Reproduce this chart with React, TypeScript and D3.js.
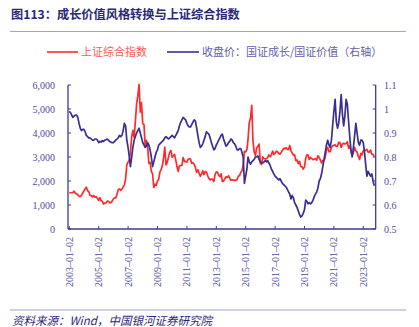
import React from "react";
import * as d3 from "d3";

const W = 419;
const H = 327;

const title = "图113：成长价值风格转换与上证综合指数";
const source = "资料来源：Wind，中国银河证券研究院";
const seriesNames = ["上证综合指数", "收盘价：国证成长/国证价值（右轴）"];

const startMonth = "2003-01";
const endMonth = "2023-11";

// Shanghai Composite, monthly (Jan 2003 – Oct 2023)
const shIndex = [
  1500, 1512, 1511, 1521, 1577, 1487, 1477, 1421, 1367, 1349, 1397, 1497,
  1590, 1675, 1742, 1595, 1555, 1400, 1386, 1342, 1396, 1320, 1340, 1266,
  1191, 1306, 1181, 1159, 1040, 1080, 1083, 1162, 1155, 1092, 1099, 1161,
  1258, 1299, 1298, 1440, 1641, 1672, 1612, 1658, 1752, 1837, 2099, 2675,
  2786, 2881, 3183, 3841, 4109, 3820, 4471, 5218, 5552, 6030, 4871, 5262,
  4383, 4348, 3473, 3693, 3433, 2736, 2776, 2397, 2293, 1729, 1871, 1821,
  1991, 2082, 2373, 2477, 2633, 2959, 3412, 2668, 2779, 2996, 3195, 3277,
  2989, 3051, 3110, 2871, 2592, 2398, 2638, 2639, 2656, 2979, 2820, 2808,
  2790, 2905, 2928, 2911, 2743, 2762, 2701, 2568, 2359, 2468, 2333, 2199,
  2292, 2428, 2263, 2396, 2373, 2225, 2103, 2047, 2086, 2069, 1980, 2269,
  2385, 2365, 2237, 2178, 2301, 1979, 1994, 2098, 2175, 2141, 2220, 2116,
  2033, 2056, 2033, 2026, 2039, 2048, 2201, 2217, 2364, 2420, 2683, 3235,
  3210, 3310, 3748, 4441, 4612, 5150, 3664, 3206, 3053, 3383, 3445, 3539,
  2738, 2688, 3004, 2938, 2917, 2930, 2979, 3085, 3005, 3100, 3250, 3104,
  3159, 3242, 3223, 3155, 3117, 3192, 3273, 3361, 3349, 3393, 3317, 3307,
  3481, 3259, 3169, 3082, 3095, 2847, 2876, 2725, 2821, 2603, 2588, 2494,
  2585, 2941, 3091, 3078, 2899, 2979, 2933, 2886, 2905, 2929, 2871, 3050,
  2977, 2880, 2750, 2860, 2852, 2985, 3310, 3396, 3218, 3225, 3392, 3473,
  3483, 3509, 3441, 3447, 3615, 3591, 3397, 3544, 3568, 3547, 3564, 3640,
  3361, 3462, 3252, 3047, 3186, 3399, 3253, 3202, 3024, 2893, 3151, 3089,
  3256, 3280, 3273, 3323, 3205, 3202, 3291, 3120, 3110, 3018,
];

// Growth / Value close ratio, monthly (right axis)
const growthValue = [
  0.99, 0.985, 0.975, 0.965, 0.97, 0.975, 0.975, 0.965, 0.94, 0.92, 0.91, 0.915,
  0.915, 0.905, 0.89, 0.885, 0.88, 0.88, 0.875, 0.87, 0.87, 0.875, 0.875, 0.87,
  0.86, 0.865, 0.862, 0.868, 0.865, 0.87, 0.872, 0.875, 0.87, 0.865, 0.862, 0.86,
  0.86, 0.865, 0.87, 0.875, 0.88, 0.89, 0.885, 0.89, 0.91, 0.94, 0.93, 0.87,
  0.84, 0.8, 0.76, 0.8, 0.84, 0.87, 0.885, 0.9, 0.91, 0.92, 0.9, 0.88,
  0.86, 0.85, 0.84, 0.845, 0.86, 0.85, 0.83, 0.8, 0.76, 0.78, 0.8, 0.82,
  0.83, 0.85, 0.855, 0.86, 0.865, 0.87, 0.88, 0.885, 0.88, 0.875, 0.88, 0.885,
  0.89, 0.885, 0.88, 0.89, 0.9, 0.91, 0.93, 0.945, 0.955, 0.965, 0.96, 0.955,
  0.94, 0.93, 0.925, 0.925, 0.935, 0.945, 0.955, 0.95, 0.92, 0.89, 0.86, 0.84,
  0.845, 0.855, 0.87, 0.885, 0.905, 0.9, 0.895, 0.88, 0.86, 0.845, 0.83, 0.835,
  0.85, 0.86, 0.87, 0.88, 0.89, 0.895, 0.875, 0.86, 0.845, 0.85, 0.86, 0.865,
  0.875, 0.87, 0.86, 0.855, 0.845, 0.83, 0.83, 0.835, 0.835, 0.82, 0.8, 0.69,
  0.72, 0.75, 0.8, 0.78, 0.77, 0.78, 0.785, 0.79, 0.8, 0.8, 0.805, 0.79,
  0.78, 0.775, 0.775, 0.78, 0.785, 0.78, 0.785, 0.775, 0.765, 0.75, 0.74, 0.73,
  0.72, 0.715, 0.71, 0.705, 0.71, 0.7, 0.69, 0.685, 0.68, 0.675, 0.665, 0.655,
  0.645, 0.625, 0.64, 0.63, 0.61, 0.6, 0.59, 0.575, 0.56, 0.55, 0.555, 0.565,
  0.58, 0.62, 0.615, 0.605, 0.61, 0.605, 0.61, 0.62, 0.635, 0.645, 0.655, 0.67,
  0.7, 0.71, 0.73, 0.76, 0.79, 0.82, 0.85, 0.87, 0.85, 0.84, 0.87, 0.93,
  0.99, 1.04, 0.95, 0.92, 0.94, 0.99, 1.06, 0.98, 0.93, 0.97, 1.04, 1.02,
  0.95, 0.88, 0.83, 0.8, 0.84, 0.89, 0.94, 0.9, 0.86, 0.85, 0.87, 0.87,
  0.86, 0.82, 0.77, 0.72, 0.74, 0.73, 0.72, 0.73, 0.7, 0.68,
];

const leftTicks = [0, 1000, 2000, 3000, 4000, 5000, 6000];
const rightTicks = [0.5, 0.6, 0.7, 0.8, 0.9, 1.0, 1.1];
const xTickLabels = [
  "2003-01-02", "2005-01-02", "2007-01-02", "2009-01-02", "2011-01-02", "2013-01-02",
  "2015-01-02", "2017-01-02", "2019-01-02", "2021-01-02", "2023-01-02",
];

const RED = "#FF2B2B";
const BLUE = "#3A2E92";
const AXIS = "#3D3A8E";
const TEXT = "#4F4C9E";
const DARK = "#2B2878";

export default function App() {
  const parse = d3.timeParse("%Y-%m");
  const parseDay = d3.timeParse("%Y-%m-%d");
  const months = d3.timeMonth.range(parse(startMonth)!, parse(endMonth)!);

  const plotL = 68;
  const plotR = 375.7;
  const plotT = 85;
  const plotB = 229;

  const x = d3
    .scaleTime()
    .domain([parseDay("2003-01-02")!, parseDay("2023-01-02")!])
    .range([69.3, 363.3]);
  const yL = d3.scaleLinear().domain([0, 6000]).range([plotB, plotT]);
  const yR = d3.scaleLinear().domain([0.5, 1.1]).range([plotB, plotT]);

  const redLine = d3
    .line<number>()
    .x((_, i) => x(months[i]))
    .y((d) => yL(d));
  const blueLine = d3
    .line<number>()
    .x((_, i) => x(months[i]))
    .y((d) => yR(d));

  const serif = "'Liberation Serif', 'Times New Roman', serif";
  const cjk = "'Noto Sans CJK SC', sans-serif";

  return (
    <svg width={W} height={H} style={{ display: "block", position: "absolute", left: 0, top: 0, background: "#fff" }}>
      <text x={11} y={18.5} fontFamily={cjk} fontWeight={700} fontSize={12.2} fill={DARK}>
        {title}
      </text>
      <line x1={10} x2={406} y1={31.5} y2={31.5} stroke="#8C8AC0" strokeWidth={0.8} />

      {/* legend */}
      <line x1={47} x2={78} y1={52} y2={52} stroke={RED} strokeWidth={1.6} />
      <text x={81} y={56} fontFamily={cjk} fontSize={11} fill="#FF5A5A">
        {seriesNames[0]}
      </text>
      <line x1={167} x2={199} y1={52} y2={52} stroke={BLUE} strokeWidth={1.6} />
      <text x={202} y={56} fontFamily={cjk} fontSize={11} fill="#6461A8">
        {seriesNames[1]}
      </text>

      {/* series */}
      <path d={redLine(shIndex) || ""} fill="none" stroke={RED} strokeWidth={1.7} strokeLinejoin="round" />
      <path d={blueLine(growthValue) || ""} fill="none" stroke={BLUE} strokeWidth={1.7} strokeLinejoin="round" />

      {/* axes */}
      <line x1={plotL} x2={plotL} y1={plotT} y2={plotB} stroke={AXIS} strokeWidth={1.3} />
      <line x1={plotR} x2={plotR} y1={plotT} y2={plotB} stroke={AXIS} strokeWidth={1.3} />
      <line x1={plotL} x2={plotR} y1={plotB} y2={plotB} stroke={AXIS} strokeWidth={1.3} />

      {leftTicks.map((t) => (
        <g key={"l" + t}>
          <line x1={plotL} x2={plotL + 3} y1={yL(t)} y2={yL(t)} stroke={AXIS} strokeWidth={1} />
          <text x={55} y={yL(t) + 3.5} textAnchor="end" fontFamily={serif} fontSize={10} fill={TEXT}>
            {d3.format(",")(t)}
          </text>
        </g>
      ))}
      {rightTicks.map((t) => (
        <g key={"r" + t}>
          <line x1={plotR - 3} x2={plotR} y1={yR(t)} y2={yR(t)} stroke={AXIS} strokeWidth={1} />
          <text x={384} y={yR(t) + 3.5} textAnchor="start" fontFamily={serif} fontSize={10} fill={TEXT}>
            {String(t === 1 ? 1 : t)}
          </text>
        </g>
      ))}
      {xTickLabels.map((lab) => {
        const xv = x(parseDay(lab)!);
        return (
          <g key={lab}>
            <line x1={xv} x2={xv} y1={plotB} y2={plotB - 3} stroke={AXIS} strokeWidth={1} />
            <text
              transform={`translate(${xv + 3.5},237) rotate(-90)`}
              textAnchor="end"
              fontFamily={serif}
              fontSize={10}
              fill={TEXT}
            >
              {lab.replace(/-/g, "–")}
            </text>
          </g>
        );
      })}

      <line x1={10} x2={406} y1={310} y2={310} stroke="#8C8AC0" strokeWidth={0.8} />
      <text x={12} y={325} fontFamily={cjk} fontStyle="italic" fontSize={11.5} fill={DARK}>
        {source}
      </text>
    </svg>
  );
}
